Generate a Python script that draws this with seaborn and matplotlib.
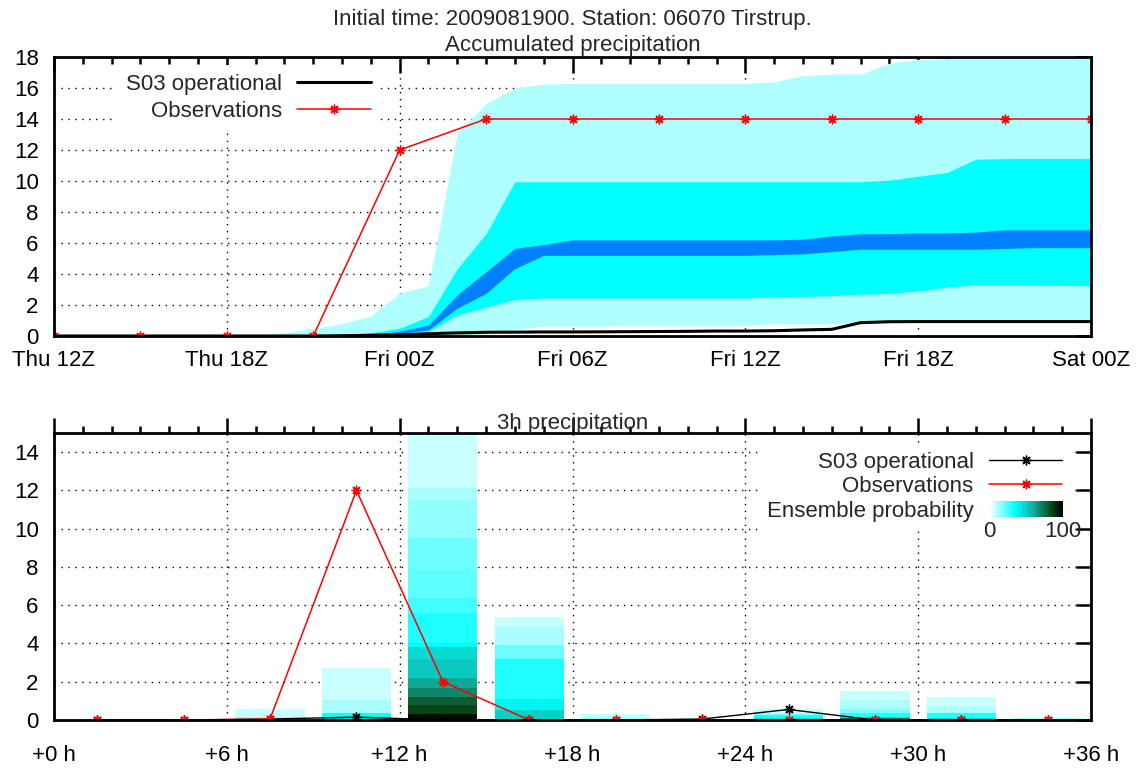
import numpy as np
import seaborn as sns
import matplotlib.pyplot as plt
from matplotlib.colors import LinearSegmentedColormap
from matplotlib.legend_handler import HandlerBase
from matplotlib.lines import Line2D
from matplotlib.patches import Rectangle
from matplotlib.text import Text
from matplotlib.ticker import MultipleLocator

# hours since Thu 12Z (forecast lead time)
hours = list(range(37))

# accumulated precipitation: ensemble band edges, hourly
outer_lo = [0, 0, 0, 0, 0, 0, 0, 0, 0, 0, 0, 0, 0, 0, 0, 0.15, 0.4, 0.65, 0.65, 0.65,
            0.7, 0.7, 0.7, 0.7, 0.7, 0.8, 0.8, 0.8, 0.9, 1.0, 1.0, 1.0, 1.0, 1.0, 1.0, 1.0, 1.0]
cyan_lo = [0, 0, 0, 0, 0, 0, 0, 0, 0, 0, 0.03, 0.08, 0.2, 0.3, 1.35, 1.85, 2.35, 2.45, 2.45,
           2.45, 2.45, 2.45, 2.45, 2.45, 2.45, 2.5, 2.55, 2.6, 2.7, 2.75, 2.9, 3.15, 3.3, 3.3, 3.3, 3.25, 3.25]
blue_lo = [0, 0, 0, 0, 0, 0, 0, 0, 0, 0, 0, 0, 0.17, 0.4, 1.8, 2.75, 4.35, 5.2, 5.2, 5.2,
           5.2, 5.2, 5.2, 5.2, 5.2, 5.25, 5.3, 5.45, 5.6, 5.6, 5.6, 5.6, 5.6, 5.65, 5.7, 5.7, 5.7]
blue_hi = [0, 0, 0, 0, 0, 0, 0, 0, 0, 0, 0, 0.1, 0.3, 0.7, 2.65, 4.15, 5.65, 5.9, 6.2, 6.2,
           6.2, 6.2, 6.2, 6.2, 6.2, 6.2, 6.25, 6.45, 6.6, 6.6, 6.65, 6.65, 6.7, 6.85, 6.85, 6.85, 6.85]
cyan_hi = [0, 0, 0, 0, 0, 0, 0, 0, 0, 0, 0.05, 0.2, 0.5, 1.25, 4.35, 6.6, 9.95, 9.95, 9.95,
           9.95, 9.95, 9.95, 9.95, 9.95, 9.95, 9.95, 9.95, 9.95, 9.95, 10.05, 10.3, 10.55, 11.4,
           11.45, 11.45, 11.45, 11.45]
outer_hi = [0, 0, 0, 0, 0, 0, 0, 0.05, 0.2, 0.5, 0.8, 1.3, 2.75, 3.25, 13.1, 15.0, 16.0, 16.25,
            16.3, 16.3, 16.3, 16.3, 16.3, 16.3, 16.3, 16.4, 16.8, 16.9, 16.9, 17.6, 17.85, 17.9,
            18.0, 18.0, 18.0, 18.0, 18.0]
s03_acc = [0, 0, 0, 0, 0, 0, 0, 0, 0, 0, 0.02, 0.05, 0.08, 0.15, 0.2, 0.24, 0.25, 0.26, 0.26,
           0.27, 0.28, 0.29, 0.3, 0.32, 0.32, 0.34, 0.39, 0.43, 0.86, 0.92, 0.93, 0.93, 0.93,
           0.93, 0.93, 0.93, 0.93]

obs_hours = [0, 3, 6, 9, 12, 15, 18, 21, 24, 27, 30, 33, 36]
obs_acc = [0, 0, 0, 0, 12, 14, 14, 14, 14, 14, 14, 14, 14]

# 3h precipitation
step_hours = [1.5, 4.5, 7.5, 10.5, 13.5, 16.5, 19.5, 22.5, 25.5, 28.5, 31.5, 34.5]
obs_3h = [0, 0, 0.05, 12, 2, 0, 0, 0, 0, 0, 0, 0]
s03_3h = [0, 0, 0.05, 0.15, 0.0, 0.0, 0.0, 0.05, 0.55, 0.0, 0.0, 0.0]

# ensemble bars: level edges (mm) and probability (%) of exceeding each level
bar_hours = [7.5, 10.5, 13.5, 16.5, 19.5, 22.5, 25.5, 28.5, 31.5, 34.5]
bar_edges = [
    [0, 0.15, 0.55],
    [0, 0.17, 0.35, 1.05, 2.7],
    [0, 0.3, 0.8, 1.2, 1.65, 2.2, 3.2, 3.8, 4.0, 5.6, 6.4, 7.9, 9.5, 11.5, 12.1, 15],
    [0, 0.5, 1.1, 3.2, 3.9, 4.9, 5.4],
    [0, 0.08, 0.3],
    [0, 0.05],
    [0, 0.1, 0.25, 0.35, 0.6],
    [0, 0.1, 0.17, 0.35, 0.6, 1.05, 1.52],
    [0, 0.1, 0.35, 0.7, 1.21],
    [0, 0.1],
]
bar_probs = [
    [14, 7.5],
    [45, 33, 12, 7.5],
    [97, 86, 80, 70, 62, 52, 47, 36, 31, 26, 22, 20, 15, 12, 7.5],
    [50, 38, 31, 20, 12, 7.5],
    [14, 7.5],
    [7.5],
    [45, 32, 15, 7.5],
    [75, 45, 30, 18, 11, 7.5],
    [45, 30, 12, 7.5],
    [12],
]

tick_hours = [0, 6, 12, 18, 24, 30, 36]
top_labels = ['Thu 12Z', 'Thu 18Z', 'Fri 00Z', 'Fri 06Z', 'Fri 12Z', 'Fri 18Z', 'Sat 00Z']
bottom_labels = ['+0 h', '+6 h', '+12 h', '+18 h', '+24 h', '+30 h', '+36 h']

prob_cmap = LinearSegmentedColormap.from_list(
    'ens', [(0, '#ffffff'), (0.35, '#00ffff'), (0.6, '#10b0a0'),
            (0.85, '#0a4a18'), (1, '#000000')])

sns.set_style('white')
plt.rcParams['font.family'] = ['Liberation Sans', 'DejaVu Sans']
plt.rcParams['font.size'] = 16

AST = (8, 2, 0)  # gnuplot-like asterisk


class ProbabilityHandler(HandlerBase):
    # colour bar as legend key, with 0 and 100 under it
    def create_artists(self, legend, orig_handle, xdescent, ydescent,
                       width, height, fontsize, trans):
        n = 60
        arts = []
        for i, p in enumerate(np.linspace(0, 1, n)):
            arts.append(Rectangle((-xdescent + i * width / n, -ydescent), width / n * 1.1, height,
                                  facecolor=prob_cmap(p), edgecolor='none', transform=trans))
        for xx, s in [(0, '0'), (width, '100')]:
            arts.append(Text(-xdescent + xx, -ydescent - 3, s, ha='center', va='top',
                             fontsize=fontsize, transform=trans))
        return arts


W, H = 1140, 772
fig = plt.figure(figsize=(W / 100, H / 100), dpi=100)
ax1 = fig.add_axes([54 / W, 1 - 336 / H, (1091 - 54) / W, (336 - 57) / H])
ax2 = fig.add_axes([54 / W, 1 - 720 / H, (1091 - 54) / W, (720 - 433) / H])

# --- accumulated precipitation
ax1.fill_between(hours, outer_lo, outer_hi, color='#b0ffff', lw=0)
ax1.fill_between(hours, cyan_lo, cyan_hi, color='#00ffff', lw=0)
ax1.fill_between(hours, blue_lo, blue_hi, color='#0080ff', lw=0)
sns.lineplot(x=hours, y=s03_acc, ax=ax1, color='black', lw=2.2, legend=False)
sns.lineplot(x=obs_hours, y=obs_acc, ax=ax1, color='red', lw=1.1, marker=AST, ms=7,
             markeredgecolor='red', markeredgewidth=1, legend=False)

top_handles = [Line2D([], [], color='black', lw=2.2),
               Line2D([], [], color='red', lw=1.1, marker=AST, ms=7, mec='red', mew=1)]
ax1.legend(top_handles, ['S03 operational', 'Observations'], loc='upper right',
           bbox_to_anchor=(0.314, 0.97), markerfirst=False, facecolor='white',
           edgecolor='none', framealpha=1, fancybox=False, handlelength=3.3,
           handletextpad=0.7, labelspacing=0.24, borderpad=0.4, borderaxespad=0, numpoints=1)

ax1.set_ylim(0, 18)
ax1.set_xticks(tick_hours, top_labels)
ax1.set_title('Initial time: 2009081900. Station: 06070 Tirstrup.\nAccumulated precipitation',
              fontsize=16, pad=4.5, linespacing=1.3)

# --- 3h precipitation
for x, edges, probs in zip(bar_hours, bar_edges, bar_probs):
    ax2.bar(x, np.diff(edges), bottom=edges[:-1], width=2.4,
            color=prob_cmap(np.array(probs) / 100), lw=0)
sns.lineplot(x=step_hours, y=s03_3h, ax=ax2, color='black', lw=1, marker=AST, ms=7,
             markeredgecolor='black', markeredgewidth=1, legend=False)
sns.lineplot(x=step_hours, y=obs_3h, ax=ax2, color='red', lw=1.1, marker=AST, ms=7,
             markeredgecolor='red', markeredgewidth=1, legend=False)

prob_key = Rectangle((0, 0), 1, 1)
bottom_handles = [Line2D([], [], color='black', lw=1, marker=AST, ms=7, mec='black', mew=1),
                  Line2D([], [], color='red', lw=1.1, marker=AST, ms=7, mec='red', mew=1),
                  prob_key]
ax2.legend(bottom_handles, ['S03 operational', 'Observations', 'Ensemble probability'],
           handler_map={prob_key: ProbabilityHandler()}, loc='upper right',
           bbox_to_anchor=(0.981, 0.966), markerfirst=False, facecolor='white',
           edgecolor='none', framealpha=1, fancybox=False, handlelength=3.3,
           handletextpad=0.7, labelspacing=0.16, borderpad=0.4, borderaxespad=0, numpoints=1)

ax2.set_ylim(0, 15)
ax2.set_xticks(tick_hours, bottom_labels)
ax2.text(0.5, 1 + 4 / 287, '3h precipitation', transform=ax2.transAxes,
         ha='center', va='baseline', fontsize=16)

for ax in (ax1, ax2):
    ax.set_xlim(0, 36)
    ax.set_xlabel('')
    ax.set_ylabel('')
    ax.xaxis.set_minor_locator(MultipleLocator(1))
    ax.yaxis.set_major_locator(MultipleLocator(2))
    ax.grid(True, which='major', color='black', ls=(0, (1, 4)), lw=1.0)
    ax.set_axisbelow(True)
    for s in ax.spines.values():
        s.set_linewidth(2)
        s.set_color('black')
    ax.tick_params(which='both', top=True, right=True, labeltop=False, labelright=False,
                   width=1.8, color='black', labelsize=16, labelcolor='black')
    ax.tick_params(axis='y', direction='in', length=10.5, pad=11)

ax1.tick_params(axis='x', which='both', direction='in', pad=10)
ax1.tick_params(axis='x', which='major', length=11.5)
ax1.tick_params(axis='x', which='minor', length=5)
ax2.tick_params(axis='x', which='both', direction='out', pad=7)
ax2.tick_params(axis='x', which='major', length=11)
ax2.tick_params(axis='x', which='minor', length=5)

fig.savefig('out.png', dpi=100)
